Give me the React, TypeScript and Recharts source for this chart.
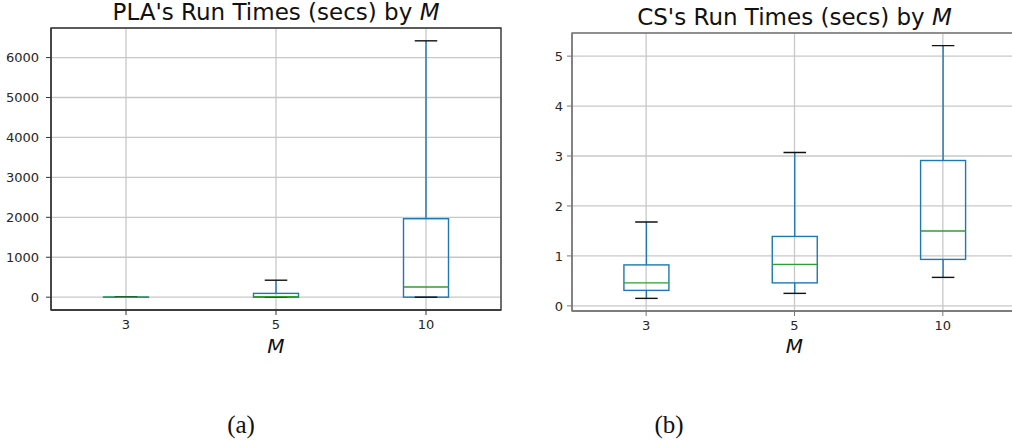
import React from "react";
import {
  ComposedChart,
  Bar,
  XAxis,
  YAxis,
  CartesianGrid,
  Label,
  ReferenceArea,
} from "recharts";

const M_LABELS = ["3", "5", "10"];

// PLA run times (secs) box stats per M
const PLA_MIN = [0, 0, 0];
const PLA_Q1 = [0, 0, 0];
const PLA_MED = [0, 10, 255];
const PLA_Q3 = [2, 95, 1965];
const PLA_MAX = [4, 425, 6420];
const PLA_TICKS = [0, 1000, 2000, 3000, 4000, 5000, 6000];

// CS run times (secs) box stats per M
const CS_MIN = [0.15, 0.25, 0.57];
const CS_Q1 = [0.31, 0.46, 0.93];
const CS_MED = [0.46, 0.83, 1.5];
const CS_Q3 = [0.82, 1.39, 2.91];
const CS_MAX = [1.68, 3.07, 5.21];
const CS_TICKS = [0, 1, 2, 3, 4, 5];

const BLUE = "#1f77b4";
const GREEN = "#2ca02c";
const FONT = "'DejaVu Sans', sans-serif";

const build = (mn: number[], q1: number[], md: number[], q3: number[], mx: number[]) =>
  M_LABELS.map((m, i) => ({ m, min: mn[i], q1: q1[i], med: md[i], q3: q3[i], max: mx[i] }));

const plaData = build(PLA_MIN, PLA_Q1, PLA_MED, PLA_Q3, PLA_MAX);
const csData = build(CS_MIN, CS_Q1, CS_MED, CS_Q3, CS_MAX);

// domain with matplotlib's 5% margins
const pad = (lo: number, hi: number) => [lo - (hi - lo) * 0.05, hi + (hi - lo) * 0.05];

const BoxShape = (props: any) => {
  const { x, y, width, height, payload } = props;
  const top = Math.min(y, y + height);
  const h = Math.abs(height);
  const { min, q1, med, q3, max } = payload;
  const span = max - min || 1;
  const py = (v: number) => top + (h * (max - v)) / span;
  const cx = x + width / 2;
  const cw = width / 4;
  return (
    <g>
      <rect x={x} y={py(q3)} width={width} height={py(q1) - py(q3)} fill="none" stroke={BLUE} strokeWidth={1.4} />
      <line x1={cx} x2={cx} y1={py(q1)} y2={py(min)} stroke={BLUE} strokeWidth={1.4} />
      <line x1={cx} x2={cx} y1={py(q3)} y2={py(max)} stroke={BLUE} strokeWidth={1.4} />
      <line x1={cx - cw} x2={cx + cw} y1={py(min)} y2={py(min)} stroke="#111" strokeWidth={1.4} />
      <line x1={cx - cw} x2={cx + cw} y1={py(max)} y2={py(max)} stroke="#111" strokeWidth={1.4} />
      <line x1={x} x2={x + width} y1={py(med)} y2={py(med)} stroke={GREEN} strokeWidth={1.4} />
    </g>
  );
};

const YTick = ({ x, y, payload }: any) => (
  <text x={x} y={y} dy="0.36em" textAnchor="end" fontSize={13} fontFamily={FONT} fill="#262626">
    {payload.value}
  </text>
);

const XTick = ({ x, y, payload }: any) => (
  <text x={x} y={y} dy="0.74em" textAnchor="middle" fontSize={13} fontFamily={FONT} fill="#262626">
    {payload.value}
  </text>
);

function BoxChart({
  data,
  ticks,
  domain,
  width,
  height,
  top,
  yWidth,
  labelOffset,
  frame,
  tickMargin,
}: {
  data: any[];
  ticks: number[];
  domain: number[];
  width: number;
  height: number;
  top: number;
  yWidth: number;
  labelOffset: number;
  frame: string;
  tickMargin: number;
}) {
  return (
    <ComposedChart
      width={width}
      height={height}
      data={data}
      margin={{ top, right: 9, bottom: 0, left: 0 }}
      barCategoryGap="35%"
    >
      <CartesianGrid stroke="#c8c8c8" strokeWidth={1.3} />
      <XAxis
        dataKey="m"
        height={60}
        tick={<XTick />}
        tickSize={5}
        tickMargin={4}
        stroke={frame}
        tickLine={{ stroke: frame }}
        axisLine={{ stroke: frame, strokeWidth: 1.3 }}
      >
        <Label
          value="M"
          position="insideBottom"
          offset={labelOffset}
          style={{ fontSize: 20, fontStyle: "italic", fontFamily: FONT, fill: "#111" }}
        />
      </XAxis>
      <YAxis
        type="number"
        domain={domain}
        ticks={ticks}
        allowDataOverflow
        width={yWidth}
        tick={<YTick />}
        tickSize={5}
        tickMargin={tickMargin}
        tickLine={{ stroke: frame }}
        axisLine={{ stroke: frame, strokeWidth: 1.3 }}
      />
      <Bar dataKey={(d: any) => [d.min, d.max]} shape={BoxShape} isAnimationActive={false} />
      <ReferenceArea
        x1={M_LABELS[0]}
        x2={M_LABELS[M_LABELS.length - 1]}
        y1={domain[0]}
        y2={domain[1]}
        fill="none"
        fillOpacity={0}
        stroke={frame}
        strokeWidth={1.3}
        strokeOpacity={1}
        ifOverflow="visible"
      />
    </ComposedChart>
  );
}

export default function App() {
  const title = (text: string, left: number, topPx: number, w: number) => (
    <div
      style={{
        position: "absolute",
        left,
        top: topPx,
        width: w,
        textAlign: "center",
        fontFamily: FONT,
        fontSize: 23,
        lineHeight: "23px",
        color: "#111",
        whiteSpace: "nowrap",
      }}
    >
      {text} <i>M</i>
    </div>
  );
  const caption = (text: string, cx: number) => (
    <div
      style={{
        position: "absolute",
        left: cx - 50,
        top: 412,
        width: 100,
        textAlign: "center",
        fontFamily: "'Liberation Serif', serif",
        fontSize: 25,
        lineHeight: "25px",
        color: "#111",
      }}
    >
      {text}
    </div>
  );
  return (
    <div
      style={{
        position: "absolute",
        left: 0,
        top: 0,
        width: 1012,
        height: 446,
        overflow: "hidden",
        background: "#fff",
      }}
    >
      <div style={{ position: "absolute", left: 0, top: 0 }}>
        <BoxChart
          data={plaData}
          ticks={PLA_TICKS}
          domain={pad(0, 6420)}
          width={510}
          height={370}
          top={28}
          yWidth={51}
          labelOffset={17}
          frame="#333"
          tickMargin={7}
        />
      </div>
      <div style={{ position: "absolute", left: 510, top: 0 }}>
        <BoxChart
          data={csData}
          ticks={CS_TICKS}
          domain={pad(0.15, 5.21)}
          width={516}
          height={371}
          top={33}
          yWidth={62}
          labelOffset={18}
          frame="#777"
          tickMargin={4}
        />
      </div>
      {title("PLA's Run Times (secs) by", 51, 0.5, 450)}
      {title("CS's Run Times (secs) by", 572, 5.5, 445)}
      {caption("(a)", 241)}
      {caption("(b)", 669)}
    </div>
  );
}
